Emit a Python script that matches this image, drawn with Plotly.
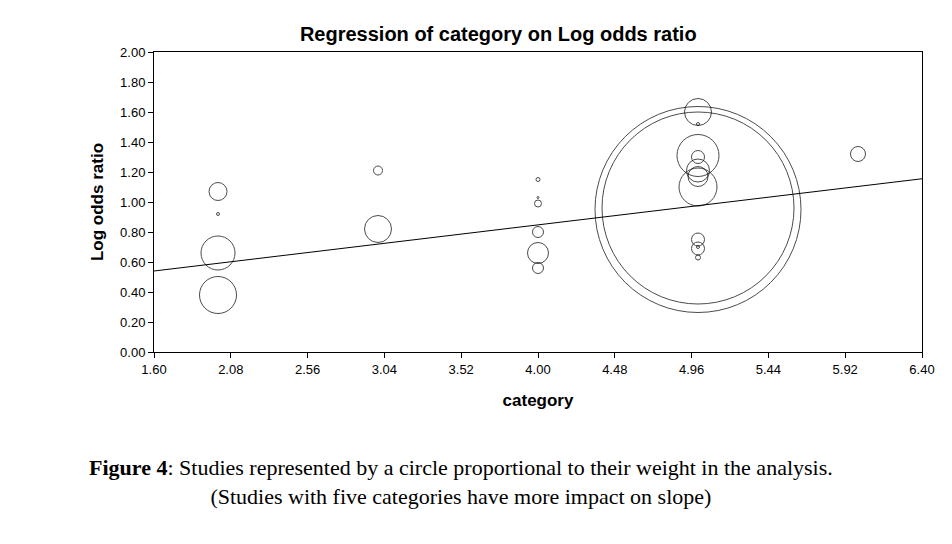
import plotly.graph_objects as go

# Studies: category, log odds ratio and circle diameter (weight in the analysis)
category = [2, 2, 2, 2,
            3, 3,
            4, 4, 4, 4, 4, 4,
            5, 5, 5, 5, 5, 5, 5, 5, 5, 5, 5, 5, 5,
            6]
log_odds = [1.07, 0.92, 0.66, 0.38,
            1.21, 0.82,
            1.15, 1.03, 0.99, 0.80, 0.66, 0.56,
            1.60, 1.52, 1.31, 1.30, 1.21, 1.17, 1.10, 0.95, 0.96, 0.75, 0.70, 0.69, 0.63,
            1.32]
weight = [18, 3, 34, 37,
          9, 27,
          4, 2, 7, 11, 21, 11,
          27, 3, 42, 13, 23, 20, 38, 206, 192, 13, 3, 13, 5,
          15]

# Fitted regression line
line_x = [1.60, 6.40]
line_y = [0.54, 1.155]

x_ticks = [1.60, 2.08, 2.56, 3.04, 3.52, 4.00, 4.48, 4.96, 5.44, 5.92, 6.40]
y_ticks = [0.00, 0.20, 0.40, 0.60, 0.80, 1.00, 1.20, 1.40, 1.60, 1.80, 2.00]

fig = go.Figure()
fig.add_trace(go.Scatter(x=category, y=log_odds, mode='markers',
                         marker=dict(size=weight, sizemode='diameter', color='rgba(0,0,0,0)',
                                     line=dict(color='black', width=1))))
fig.add_trace(go.Scatter(x=line_x, y=line_y, mode='lines', line=dict(color='black', width=1)))

axis_style = dict(showline=True, linecolor='black', linewidth=1, mirror=True, ticks='outside',
                  ticklen=5, tickcolor='black', showgrid=False, zeroline=False,
                  tickfont=dict(family='Liberation Sans', size=13, color='black'))
fig.update_xaxes(range=[1.60, 6.40], tickvals=x_ticks, ticktext=['%.2f' % v for v in x_ticks],
                 title=dict(text='<b>category</b>', font=dict(family='Liberation Sans', size=17, color='black'), standoff=18),
                 **axis_style)
fig.update_yaxes(range=[0, 2.0], tickvals=y_ticks, ticktext=['%.2f' % v for v in y_ticks],
                 title=dict(text='<b>Log odds ratio</b>', font=dict(family='Liberation Sans', size=17, color='black'), standoff=12),
                 **axis_style)

fig.update_layout(
    width=952, height=544, showlegend=False,
    plot_bgcolor='white', paper_bgcolor='white',
    margin=dict(l=146, r=38, t=44, b=200),
    title=dict(text='<b>Regression of category on Log odds ratio</b>', x=0.515, xanchor='center', y=0.965,
               font=dict(family='Liberation Sans', size=20, color='black')),
)
fig.add_annotation(xref='paper', yref='paper', x=0.40, y=-0.53, xanchor='center', showarrow=False, align='center',
                   text='<b>Figure 4</b>: Studies represented by a circle proportional to their weight in the analysis.<br>'
                        '(Studies with five categories have more impact on slope)',
                   font=dict(family='Liberation Serif', size=22, color='black'))

fig.write_html("out.html")
